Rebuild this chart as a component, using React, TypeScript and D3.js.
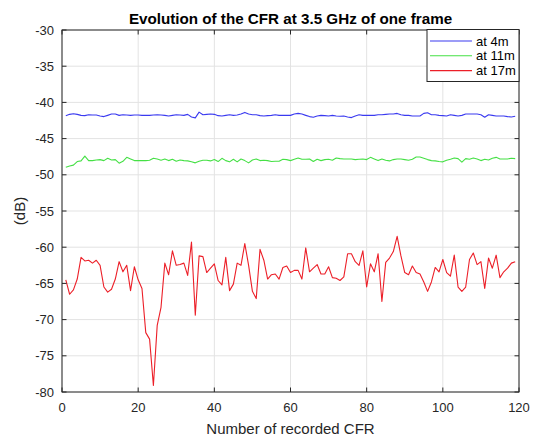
import React from "react";
import * as d3 from "d3";

const title = "Evolution of the CFR at 3.5 GHz of one frame";
const xLabel = "Number of recorded CFR";
const yLabel = "(dB)";
const xTicks = [0, 20, 40, 60, 80, 100, 120];
const yTicks = [-30, -35, -40, -45, -50, -55, -60, -65, -70, -75, -80];
const seriesNames = ["at 4m", "at 11m", "at 17m"];
const seriesColors = ["#3a3af0", "#45e045", "#ec1f28"];

const at4m = [
  -41.83, -41.65, -41.56, -41.65, -41.79, -41.83, -41.7, -41.74, -41.74, -41.88,
  -41.96, -41.79, -41.61, -41.61, -41.79, -41.7, -41.74, -41.79, -41.74, -41.74,
  -41.79, -41.79, -41.79, -41.74, -41.7, -41.74, -41.79, -41.88, -41.79, -41.7,
  -41.74, -41.79, -41.65, -42.01, -42.14, -41.34, -41.7, -41.65, -41.61, -41.65,
  -41.83, -41.88, -41.79, -41.7, -41.79, -41.74, -41.61, -41.38, -41.61, -41.7,
  -41.7, -41.83, -41.88, -41.83, -41.79, -41.7, -41.79, -41.79, -41.79, -41.79,
  -41.61, -41.52, -41.61, -41.79, -41.96, -42.05, -41.88, -41.79, -41.83, -41.88,
  -41.79, -41.88, -41.92, -41.88, -42.01, -42.1, -41.88, -41.7, -41.79, -41.79,
  -41.79, -41.79, -41.7, -41.7, -41.65, -41.61, -41.61, -41.52, -41.7, -41.79,
  -41.79, -41.88, -41.88, -41.88, -41.52, -41.43, -41.7, -41.7, -41.79, -41.83,
  -41.88, -41.7, -41.79, -41.88, -41.79, -41.61, -41.61, -41.61, -41.61, -41.7,
  -42.05, -41.7, -41.79, -41.88, -41.88, -41.88, -41.96, -42.01, -41.92,
];

const at11m = [
  -48.97, -48.79, -48.66, -48.17, -48.08, -47.41, -48.04, -48.04, -47.95, -47.9,
  -48.04, -47.72, -47.95, -47.9, -48.39, -48.13, -47.59, -47.81, -48.04, -48.04,
  -48.04, -48.04, -47.99, -47.72, -47.81, -47.99, -47.81, -48.04, -47.86, -48.13,
  -47.95, -48.04, -48.08, -48.21, -48.35, -48.13, -47.99, -47.99, -48.08, -47.9,
  -48.17, -47.72, -48.04, -48.21, -47.86, -48.21, -47.81, -48.04, -48.35, -47.95,
  -47.81, -48.04, -47.99, -48.04, -48.17, -48.13, -48.13, -47.86, -47.9, -48.04,
  -47.86, -47.68, -47.86, -47.86, -47.81, -48.17, -47.86, -48.04, -47.9, -47.86,
  -47.99, -47.68, -47.77, -47.81, -47.81, -47.81, -47.9, -47.86, -47.81, -47.9,
  -47.59, -47.81, -48.04, -47.81, -47.99, -48.08, -47.9, -47.81, -47.81, -47.9,
  -47.99, -47.86, -47.54, -47.54, -47.72, -47.9, -48.04, -48.08, -48.17, -48.21,
  -47.99, -47.86, -47.68, -47.77, -48.26, -47.77, -47.86, -47.68, -47.81, -48.04,
  -47.86, -47.95, -47.72, -47.59, -47.81, -47.81, -47.81, -47.72, -47.77,
];

const at17m = [
  -64.5, -66.5, -65.9, -64.4, -61.4, -61.9, -61.8, -62.2, -61.8, -62.5,
  -65.5, -66.2, -65.8, -64.4, -62.0, -63.4, -62.5, -66.0, -62.7, -64.5,
  -65.7, -71.8, -72.7, -79.1, -70.8, -68.3, -62.2, -63.8, -60.5, -62.5,
  -62.4, -62.2, -63.9, -59.3, -69.4, -61.2, -61.3, -63.5, -62.9, -62.3,
  -64.6, -65.2, -61.4, -66.0, -65.1, -62.2, -62.5, -59.5, -62.5, -66.1,
  -67.1, -60.3, -61.8, -64.4, -63.8, -63.7, -64.4, -62.8, -62.6, -63.5,
  -63.2, -63.2, -64.4, -60.1, -63.4, -62.9, -62.4, -63.7, -63.7, -62.7,
  -64.2, -64.3, -64.6, -64.1, -60.9, -60.9, -62.0, -62.5, -60.5, -65.5,
  -62.3, -63.4, -60.9, -67.5, -62.1, -61.5, -60.6, -58.5, -61.2, -63.5,
  -63.8, -62.6, -63.5, -63.7, -64.8, -66.1, -64.8, -62.8, -63.4, -61.7,
  -63.5, -64.0, -61.1, -65.5, -66.1, -65.5, -61.7, -60.8, -62.4, -62.0,
  -65.7, -61.5, -62.9, -61.1, -64.2, -63.4, -62.9, -62.2, -62.0,
];

const W = 538;
const H = 437;
const M = { left: 62, right: 519, top: 30, bottom: 392 };
const FONT = "'Liberation Sans', Arial, Helvetica, sans-serif";
const AX = "#262626";

export default function App() {
  const x = d3.scaleLinear().domain([0, 120]).range([M.left, M.right]);
  const y = d3.scaleLinear().domain([-80, -30]).range([M.bottom, M.top]);
  const series = [at4m, at11m, at17m];
  const line = d3
    .line<number>()
    .x((_, i) => x(i + 1))
    .y((d) => y(d));

  const legX = 427;
  const legY = 29.5;
  const legW = M.right - legX;
  const legH = 52;

  return (
    <svg
      width={W}
      height={H}
      style={{ position: "absolute", left: 0, top: 0, background: "#fff" }}
      fontFamily={FONT}
    >
      <rect x={0} y={0} width={W} height={H} fill="#fff" />
      {/* grid */}
      <g stroke="#e3e3e3" strokeWidth={1}>
        {xTicks.map((t) => (
          <line key={"gx" + t} x1={x(t)} x2={x(t)} y1={M.top} y2={M.bottom} />
        ))}
        {yTicks.map((t) => (
          <line key={"gy" + t} x1={M.left} x2={M.right} y1={y(t)} y2={y(t)} />
        ))}
      </g>
      {/* series */}
      <g fill="none" strokeWidth={1.1} strokeLinejoin="round">
        {series.map((s, i) => (
          <path key={i} d={line(s) || ""} stroke={seriesColors[i]} />
        ))}
      </g>
      {/* box */}
      <rect
        x={M.left}
        y={M.top}
        width={M.right - M.left}
        height={M.bottom - M.top}
        fill="none"
        stroke={AX}
        strokeWidth={1}
      />
      {/* ticks */}
      <g stroke={AX} strokeWidth={1}>
        {xTicks.map((t) => (
          <g key={"tx" + t}>
            <line x1={x(t)} x2={x(t)} y1={M.bottom} y2={M.bottom - 4.5} />
            <line x1={x(t)} x2={x(t)} y1={M.top} y2={M.top + 4.5} />
          </g>
        ))}
        {yTicks.map((t) => (
          <g key={"ty" + t}>
            <line x1={M.left} x2={M.left + 4.5} y1={y(t)} y2={y(t)} />
            <line x1={M.right} x2={M.right - 4.5} y1={y(t)} y2={y(t)} />
          </g>
        ))}
      </g>
      {/* tick labels */}
      <g fill={AX} fontSize={13}>
        {xTicks.map((t) => (
          <text key={"lx" + t} x={x(t)} y={M.bottom + 19.5} textAnchor="middle">
            {t}
          </text>
        ))}
        {yTicks.map((t) => (
          <text key={"ly" + t} x={M.left - 8} y={y(t) + 4.5} textAnchor="end">
            {t}
          </text>
        ))}
      </g>
      {/* axis labels */}
      <text
        x={(M.left + M.right) / 2}
        y={434}
        textAnchor="middle"
        fontSize={15}
        fill={AX}
      >
        {xLabel}
      </text>
      <text
        transform={`translate(25,${(M.top + M.bottom) / 2}) rotate(-90)`}
        textAnchor="middle"
        fontSize={15}
        fill={AX}
      >
        {yLabel}
      </text>
      <text
        x={(M.left + M.right) / 2}
        y={23.5}
        textAnchor="middle"
        fontSize={15.2}
        fontWeight="bold"
        fill="#000"
      >
        {title}
      </text>
      {/* legend */}
      <rect
        x={legX}
        y={legY}
        width={legW}
        height={legH}
        fill="#fff"
        stroke={AX}
        strokeWidth={1}
      />
      {seriesNames.map((n, i) => {
        const ly = legY + 11.5 + i * 14.8;
        return (
          <g key={n}>
            <line
              x1={legX + 3}
              x2={legX + 45}
              y1={ly}
              y2={ly}
              stroke={seriesColors[i]}
              strokeWidth={1.1}
            />
            <text x={legX + 49} y={ly + 4.6} fontSize={13} fill="#000">
              {n}
            </text>
          </g>
        );
      })}
    </svg>
  );
}
